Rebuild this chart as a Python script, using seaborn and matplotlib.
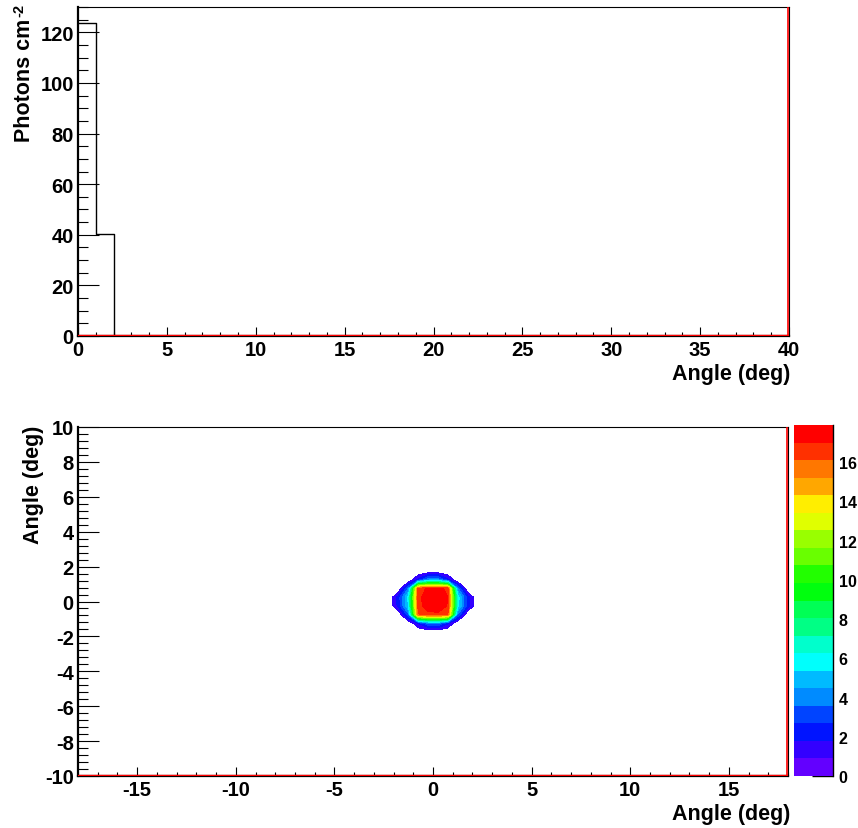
import colorsys

import numpy as np
import pandas as pd
import matplotlib
matplotlib.use("Agg")
import matplotlib.pyplot as plt
from matplotlib.colors import ListedColormap
from matplotlib.ticker import MultipleLocator
import seaborn as sns

# ---- 1D angular distribution: photons per cm^2 in 1-degree bins (0-40 deg)
angle_min, angle_max, bin_width = 0, 40, 1
photons = [123.7, 40.5, 0, 0, 0, 0, 0, 0, 0, 0,
           0, 0, 0, 0, 0, 0, 0, 0, 0, 0,
           0, 0, 0, 0, 0, 0, 0, 0, 0, 0,
           0, 0, 0, 0, 0, 0, 0, 0, 0, 0]

# ---- 2D angular map: bin centres (deg) of the populated region and their contents
map_x = [-2.25, -1.75, -1.25, -0.75, -0.25, 0.25, 0.75, 1.25, 1.75, 2.25]
map_y = [-1.75, -1.25, -0.75, -0.25, 0.25, 0.75, 1.25, 1.75]
map_z = [
    [0.0, 0.0, 0.0, 0.0, 0.0, 0.0, 0.0, 0.0, 0.0, 0.0],
    [0.0, 0.0, 0.0, 1.8, 3.4, 3.6, 1.9, 0.0, 0.0, 0.0],
    [0.0, 0.0, 3.3, 16.0, 16.6, 16.7, 16.2, 3.5, 0.0, 0.0],
    [0.0, 2.1, 5.4, 16.5, 17.7, 17.9, 16.9, 5.8, 2.3, 0.0],
    [0.0, 2.2, 5.6, 16.6, 17.8, 17.9, 17.0, 5.9, 2.2, 0.0],
    [0.0, 0.0, 3.6, 16.4, 17.2, 17.3, 16.8, 3.8, 0.0, 0.0],
    [0.0, 0.0, 0.0, 2.0, 4.0, 4.1, 2.0, 0.0, 0.0, 0.0],
    [0.0, 0.0, 0.0, 0.0, 0.0, 0.0, 0.0, 0.0, 0.0, 0.0],
]
z_max = 17.9
n_levels = 20
cbar_ticks = [0, 2, 4, 6, 8, 10, 12, 14, 16]

# ---- style
sns.set_theme(style="white")
plt.rcParams["font.family"] = ["Liberation Sans", "DejaVu Sans"]
plt.rcParams["font.weight"] = "bold"
plt.rcParams["axes.labelweight"] = "bold"
plt.rcParams["axes.unicode_minus"] = False
for key in ("text.color", "axes.labelcolor", "xtick.color", "ytick.color",
            "axes.edgecolor"):
    plt.rcParams[key] = "black"

TICK_FS = 14.5
TITLE_FS = 15.5
W, H = 858, 829


def frac(left, top, right, bottom):
    return [left / W, 1 - bottom / H, (right - left) / W, (bottom - top) / H]


# rainbow palette: 50 HLS hues from violet to red, sampled for 20 contour bands
pretty = [colorsys.hls_to_rgb((280 - (i + 1) * 280 / 50) / 360, 0.5, 1.0) for i in range(50)]
band_colors = [pretty[int((i + 0.99) * 50 / n_levels)] for i in range(n_levels)]
levels = np.linspace(0, z_max, n_levels + 1)

fig = plt.figure(figsize=(W / 100, H / 100), dpi=100)
fig.patch.set_facecolor("white")


def style_axes(ax, xmaj, xmin, ymaj, ymin):
    ax.set_facecolor("white")
    ax.xaxis.set_major_locator(MultipleLocator(xmaj))
    ax.xaxis.set_minor_locator(MultipleLocator(xmin))
    ax.yaxis.set_major_locator(MultipleLocator(ymaj))
    ax.yaxis.set_minor_locator(MultipleLocator(ymin))
    ax.tick_params(which="both", direction="in", bottom=True, left=True,
                   top=False, right=False, colors="black", width=0.8,
                   labelsize=TICK_FS)
    ax.tick_params(axis="x", which="major", length=6.5, pad=3)
    ax.tick_params(axis="x", which="minor", length=3.2)
    ax.tick_params(axis="y", which="major", length=15, pad=3)
    ax.tick_params(axis="y", which="minor", length=7.5)
    for lab in ax.get_xticklabels() + ax.get_yticklabels():
        lab.set_fontweight("bold")
    for side, sp in ax.spines.items():
        sp.set_color("black")
        sp.set_linewidth(1.6 if side in ("left", "bottom") else 0.8)
    ax.set_xlabel("")
    ax.set_ylabel("")


# ---- top panel: 1D histogram
ax1 = fig.add_axes(frac(78, 8, 789, 337))
centres = np.arange(angle_min, angle_max, bin_width) + bin_width / 2
hist_df = pd.DataFrame({"angle": centres, "photons": photons})
sns.histplot(data=hist_df, x="angle", weights="photons", binwidth=bin_width,
             binrange=(angle_min, angle_max), element="step", fill=False,
             color="black", linewidth=1.0, ax=ax1)
ax1.set_xlim(angle_min, angle_max)
ax1.set_ylim(0, 130)
ax1.axhline(0.5, color="red", linewidth=1.0, zorder=5)
ax1.axvline(angle_max - 0.06, color="red", linewidth=1.2, zorder=5)
style_axes(ax1, 5, 1, 20, 5)

fig.text(25 / W, 1 - 142 / H, "Photons cm", rotation=90,
         ha="center", va="bottom", fontsize=TITLE_FS, fontweight="bold")
fig.text(19 / W, 1 - 4 / H, "-2", rotation=90,
         ha="center", va="top", fontsize=10.5, fontweight="bold")
fig.text(790 / W, 1 - 364 / H, "Angle (deg)", ha="right", va="top",
         fontsize=TITLE_FS, fontweight="bold")

# ---- bottom panel: 2D contour map
ax2 = fig.add_axes(frac(78, 428, 788, 777))
ax2.contourf(map_x, map_y, np.array(map_z), levels=levels[1:],
             colors=band_colors[1:])
ax2.set_xlim(-18, 18)
ax2.set_ylim(-10, 10)
ax2.axhline(-9.97, color="red", linewidth=1.0, zorder=5)
ax2.axvline(18 - 0.05, color="red", linewidth=1.2, zorder=5)
style_axes(ax2, 5, 1, 2, 0.4)

fig.text(34 / W, 1 - 426 / H, "Angle (deg)", rotation=90, ha="center",
         va="top", fontsize=TITLE_FS, fontweight="bold")
fig.text(790 / W, 1 - 804 / H, "Angle (deg)", ha="right", va="top",
         fontsize=TITLE_FS, fontweight="bold")

# ---- colour scale
ax3 = fig.add_axes(frac(794, 426, 833, 777))
ax3.pcolormesh([0, 1], levels, np.arange(n_levels).reshape(-1, 1),
               cmap=ListedColormap(band_colors), shading="flat")
ax3.set_xlim(0, 1)
ax3.set_ylim(0, z_max)
ax3.set_xticks([])
ax3.yaxis.tick_right()
ax3.set_yticks(cbar_ticks)
ax3.tick_params(axis="y", which="both", direction="in", right=True, left=False,
                length=15, width=1.0, pad=4, labelsize=11.5, colors="black")
for lab in ax3.get_yticklabels():
    lab.set_fontweight("bold")
for side, sp in ax3.spines.items():
    sp.set_visible(side == "right")
    sp.set_color("black")
    sp.set_linewidth(1.0)

fig.savefig("out.png", dpi=100, facecolor="white")
